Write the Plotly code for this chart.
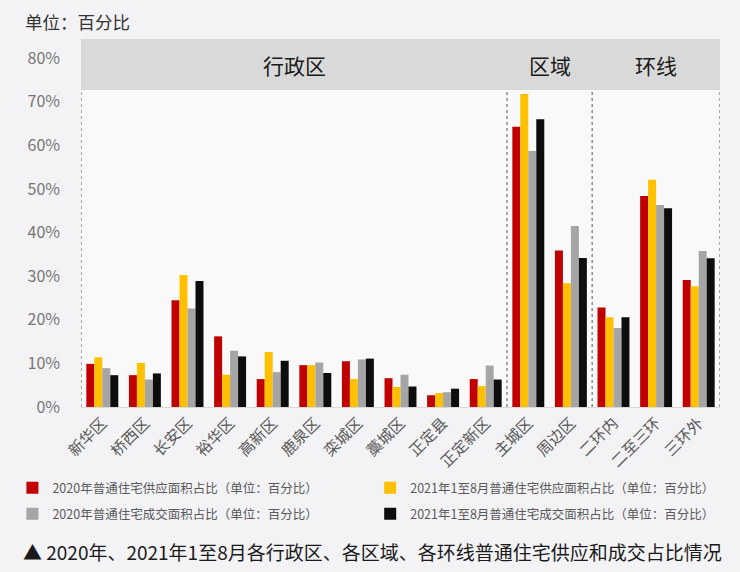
import plotly.graph_objects as go

categories = ["新华区", "桥西区", "长安区", "裕华区", "高新区", "鹿泉区", "栾城区", "藁城区",
              "正定县", "正定新区", "主城区", "周边区", "二环内", "二至三环", "三环外"]

supply_2020 = [9.9, 7.3, 24.5, 16.2, 6.4, 9.6, 10.5, 6.6, 2.7, 6.4, 64.3, 35.9, 22.8, 48.4, 29.1]
supply_2021 = [11.4, 10.1, 30.3, 7.4, 12.6, 9.6, 6.4, 4.6, 3.2, 4.8, 71.8, 28.4, 20.6, 52.1, 27.7]
deal_2020 = [8.9, 6.3, 22.6, 12.9, 8.0, 10.2, 10.9, 7.4, 3.4, 9.5, 58.7, 41.5, 18.1, 46.3, 35.8]
deal_2021 = [7.3, 7.7, 28.9, 11.6, 10.6, 7.8, 11.1, 4.7, 4.2, 6.3, 66.0, 34.2, 20.6, 45.6, 34.1]

series_names = ["2020年普通住宅供应面积占比（单位：百分比）",
                "2021年1至8月普通住宅供应面积占比（单位：百分比）",
                "2020年普通住宅成交面积占比（单位：百分比）",
                "2021年1至8月普通住宅成交面积占比（单位：百分比）"]
series_values = [supply_2020, supply_2021, deal_2020, deal_2021]
series_colors = ["#c00000", "#ffc000", "#a5a5a5", "#0d0d0d"]
series_legend = ["legend", "legend2", "legend3", "legend4"]

section_labels = ["行政区", "区域", "环线"]
section_centers = [4.5, 10.5, 13]
section_bounds = [-0.5, 9.5, 11.5, 14.5]

y_tick_vals = [0, 10, 20, 30, 40, 50, 60, 70, 80]
y_tick_text = ["0%", "10%", "20%", "30%", "40%", "50%", "60%", "70%", "80%"]
band_bottom = 72.7
y_max = 84.4

FONT = "Noto Sans CJK SC"

W, H = 740, 572
L, R, T, B = 77, 20, 39, 165
pw, ph = W - L - R, H - T - B


def px_x(px):
    return (px - L) / pw


def px_y(py):
    return 1 - (py - T) / ph


fig = go.Figure()
for name, vals, col, lg in zip(series_names, series_values, series_colors, series_legend):
    fig.add_trace(go.Bar(x=categories, y=vals, name=name, marker_color=col,
                         marker_line_width=0, legend=lg))

shapes = [dict(type="rect", xref="paper", yref="y", x0=0, x1=1, y0=band_bottom, y1=y_max,
               fillcolor="#d9d9d9", line_width=0, layer="below")]
for b in section_bounds:
    shapes.append(dict(type="line", xref="x", yref="y", x0=b, x1=b, y0=0, y1=band_bottom,
                       line=dict(color="#8c8c8c", width=1.5, dash="dot")))

annotations = []
for lab, c in zip(section_labels, section_centers):
    annotations.append(dict(x=c, xref="x", y=(band_bottom + y_max) / 2, yref="y",
                            text=lab, showarrow=False,
                            font=dict(family=FONT, size=21, color="#1a1a1a")))
annotations.append(dict(x=px_x(19), xref="paper", y=px_y(22), yref="paper", text="单位：百分比",
                        showarrow=False, xanchor="left", yanchor="middle",
                        font=dict(family=FONT, size=17.5, color="#333333")))
annotations.append(dict(x=px_x(17), xref="paper", y=px_y(551), yref="paper",
                        text="▲ 2020年、2021年1至8月各行政区、各区域、各环线普通住宅供应和成交占比情况",
                        showarrow=False, xanchor="left", yanchor="middle",
                        font=dict(family=FONT, size=19, color="#1a1a1a")))

legend_common = dict(orientation="h", xanchor="left", yanchor="middle",
                     font=dict(family=FONT, size=12.5, color="#595959"),
                     bgcolor="rgba(0,0,0,0)", itemwidth=30)

fig.update_layout(
    width=W, height=H,
    margin=dict(l=L, r=R, t=T, b=B, pad=0),
    paper_bgcolor="#f3f3f5",
    plot_bgcolor="#f9f9fa",
    barmode="group",
    bargap=0.25,
    bargroupgap=0,
    font=dict(family=FONT, color="#595959"),
    shapes=shapes,
    annotations=annotations,
    showlegend=True,
    legend=dict(legend_common, x=px_x(8), y=px_y(488)),
    legend2=dict(legend_common, x=px_x(368), y=px_y(488)),
    legend3=dict(legend_common, x=px_x(8), y=px_y(514)),
    legend4=dict(legend_common, x=px_x(368), y=px_y(514)),
    xaxis=dict(type="category", range=[-0.5, 14.5], tickangle=-45,
               tickfont=dict(family=FONT, size=15.5, color="#595959"),
               showline=True, linecolor="#d9d9d9", linewidth=1, showgrid=False,
               ticks=""),
    yaxis=dict(range=[0, y_max], tickmode="array", tickvals=y_tick_vals, ticktext=y_tick_text,
               tickfont=dict(family=FONT, size=16, color="#767676"),
               showgrid=False, zeroline=False, showline=False, ticklabelstandoff=20),
)

fig.write_html("out.html")
